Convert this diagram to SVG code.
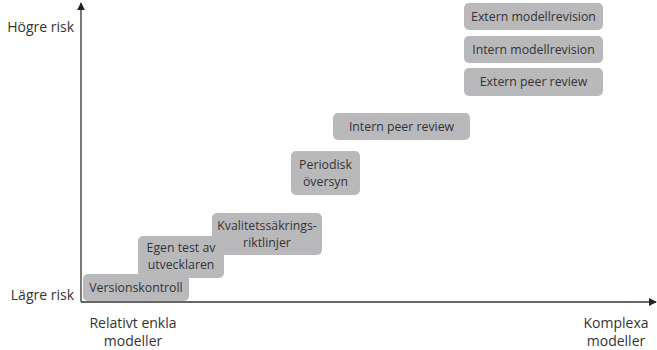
<svg xmlns="http://www.w3.org/2000/svg" width="657" height="350" viewBox="0 0 657 350">
<style>
.box{fill:#b9b9bc;}
.t{font-family:"Open Sans","Liberation Sans",sans-serif;font-size:12.3px;fill:#333;text-anchor:middle;}
.lab{font-family:"Open Sans","Liberation Sans",sans-serif;font-size:14px;fill:#333;}
.ax{stroke:#333;stroke-width:1.3;fill:none;}
</style>
<defs>
<marker id="ah" viewBox="0 0 10 10" refX="9" refY="5" markerWidth="8" markerHeight="8" markerUnits="userSpaceOnUse" orient="auto">
<path d="M0,0 L10,5 L0,10 z" fill="#222"/>
</marker>
</defs>
<g id="connectors">
<line class="ax" x1="81" y1="302" x2="81" y2="3" marker-end="url(#ah)"/>
<line class="ax" x1="81" y1="302" x2="656" y2="302" marker-end="url(#ah)"/>
</g>
<g id="axis-labels">
<text class="lab" x="74" y="32" text-anchor="end">Högre risk</text>
<text class="lab" x="74" y="300" text-anchor="end">Lägre risk</text>
<text class="lab" x="133" y="328" text-anchor="middle">Relativt enkla</text>
<text class="lab" x="133" y="346" text-anchor="middle">modeller</text>
<text class="lab" x="616" y="328" text-anchor="middle">Komplexa</text>
<text class="lab" x="616" y="346" text-anchor="middle">modeller</text>
</g>
<g id="n-kvalitet"><rect class="box" x="212" y="213" width="110" height="42" rx="5"/><text class="t" x="267" y="230">Kvalitetssäkrings-</text><text class="t" x="267" y="247">riktlinjer</text></g>
<g id="n-egen"><rect class="box" x="138" y="236" width="86" height="42" rx="5"/><text class="t" x="181" y="252">Egen test av</text><text class="t" x="181" y="269">utvecklaren</text></g>
<g id="n-version"><rect class="box" x="83" y="274" width="106" height="27" rx="5"/><text class="t" x="136" y="292">Versionskontroll</text></g>
<g id="n-periodisk"><rect class="box" x="291" y="151" width="69" height="44" rx="5"/><text class="t" x="325.5" y="169">Periodisk</text><text class="t" x="325.5" y="186">översyn</text></g>
<g id="n-internpeer"><rect class="box" x="333" y="113" width="137" height="27" rx="5"/><text class="t" x="401.5" y="131">Intern peer review</text></g>
<g id="n-externpeer"><rect class="box" x="464" y="68" width="139" height="28" rx="5"/><text class="t" x="533.5" y="86">Extern peer review</text></g>
<g id="n-internmod"><rect class="box" x="464" y="36" width="139" height="27" rx="5"/><text class="t" x="533.5" y="54">Intern modellrevision</text></g>
<g id="n-externmod"><rect class="box" x="464" y="3" width="139" height="27" rx="5"/><text class="t" x="533.5" y="21">Extern modellrevision</text></g>
</svg>
